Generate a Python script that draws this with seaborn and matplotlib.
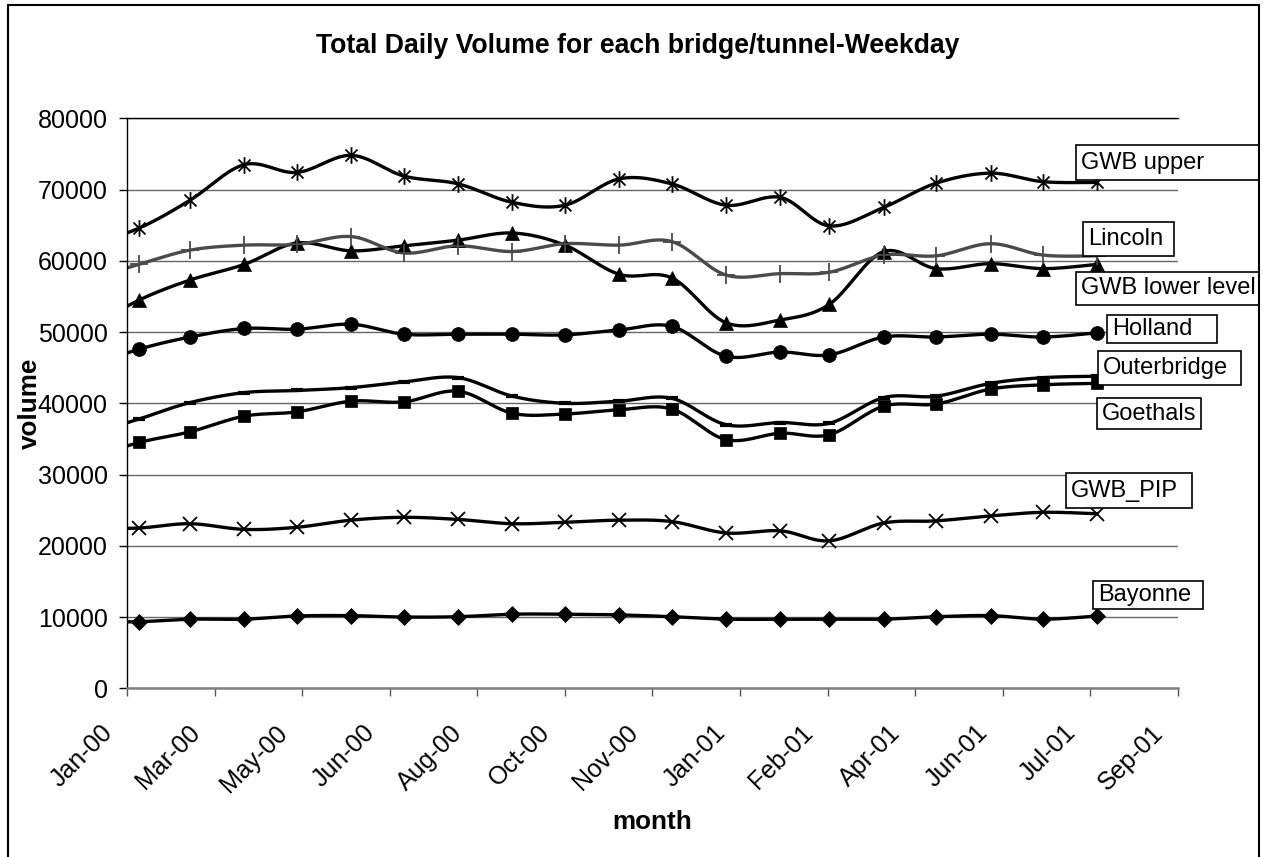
import numpy as np
import pandas as pd
import matplotlib
matplotlib.use("Agg")
import matplotlib.pyplot as plt
import matplotlib.dates as mdates
from matplotlib.path import Path
from matplotlib.patches import Rectangle
from matplotlib.transforms import ScaledTranslation
import seaborn as sns

# ---------------- data (monthly, Jan-2000 .. Aug-2001) ----------------
months = pd.date_range("2000-01-01", "2001-08-01", freq="MS")

bayonne = [9300, 9350, 9700, 9700, 10150, 10200, 10000, 10050, 10400, 10400,
           10300, 10050, 9700, 9700, 9700, 9700, 10050, 10200, 9700, 10150]
goethals = [32100, 34500, 36000, 38200, 38800, 40300, 40200, 41700, 38600, 38500,
            39100, 39200, 34900, 35800, 35600, 39600, 39900, 42000, 42600, 42800]
gwb_lower = [50300, 54500, 57300, 59500, 62500, 61400, 62100, 62900, 63900, 62200,
             58100, 57600, 51300, 51700, 53900, 61300, 58900, 59600, 58900, 59500]
gwb_pip = [22400, 22500, 23100, 22300, 22600, 23600, 24000, 23700, 23100, 23300,
           23600, 23400, 21800, 22100, 20700, 23200, 23500, 24200, 24700, 24500]
gwb_upper = [62000, 64600, 68500, 73500, 72400, 74800, 71900, 70800, 68200, 67800,
             71500, 70800, 67800, 68900, 64900, 67500, 70900, 72300, 71100, 71000]
holland = [45000, 47600, 49300, 50500, 50400, 51100, 49700, 49700, 49700, 49600,
           50300, 50800, 46600, 47200, 46800, 49300, 49300, 49700, 49300, 49900]
lincoln = [57200, 59500, 61500, 62200, 62300, 63400, 61100, 62100, 61300, 62400,
           62200, 62700, 58000, 58200, 58400, 60800, 60700, 62400, 60800, 60700]
outerbridge = [35400, 37800, 40100, 41500, 41800, 42200, 43000, 43600, 41000, 40000,
               40300, 40700, 37000, 37300, 37200, 40800, 41000, 42800, 43600, 43800]

series_names = ["Bayonne", "Goethals", "GWB lower level", "GWB_PIP",
                "GWB upper", "Holland", "Lincoln", "Outerbridge"]
series_values = [bayonne, goethals, gwb_lower, gwb_pip,
                 gwb_upper, holland, lincoln, outerbridge]

title = "Total Daily Volume for each bridge/tunnel-Weekday"
x_label = "month"
y_label = "volume"
y_ticks = [0, 10000, 20000, 30000, 40000, 50000, 60000, 70000, 80000]
x_start = pd.Timestamp("2000-01-25")
x_step_days = 50
n_xticks = 13

# ---------------- styling ----------------
sns.set_theme(style="white")
plt.rcParams["font.family"] = ["Liberation Sans", "DejaVu Sans"]

W, H = 1265, 857
fig = plt.figure(figsize=(W / 100, H / 100), dpi=100)
fig.patch.set_facecolor("white")

def fx(px):
    return px / W

def fy(py):
    return 1 - py / H

ax = fig.add_axes([fx(127), fy(688.3), fx(1178) - fx(127), fy(118.3) - fy(688.3)])
ax.set_facecolor("white")

asterisk = Path([(0, -1), (0, 1), (-0.72, -0.72), (0.72, 0.72), (-0.72, 0.72), (0.72, -0.72)],
                [Path.MOVETO, Path.LINETO] * 3)

styles = {
    "Bayonne": dict(color="black", marker="D", ms=8.5, mew=0.5, mfc="black"),
    "Goethals": dict(color="black", marker="s", ms=9, mew=0.5, mfc="black"),
    "GWB lower level": dict(color="black", marker="^", ms=10.5, mew=0.5, mfc="black"),
    "GWB_PIP": dict(color="black", marker="x", ms=10, mew=1.3, mfc="none"),
    "GWB upper": dict(color="black", marker=asterisk, ms=12, mew=1.3, mfc="none"),
    "Holland": dict(color="black", marker="o", ms=10, mew=0.5, mfc="black"),
    "Lincoln": dict(color="#4a4a4a", marker="+", ms=13, mew=1.3, mfc="none"),
    "Outerbridge": dict(color="black", marker="_", ms=8, mew=3, mfc="none"),
}


def smooth(xs, ys, n=30):
    """Excel-style smoothed line (Catmull-Rom Bezier) through the points."""
    P = np.column_stack([xs, ys]).astype(float)
    P = np.vstack([P[0], P, P[-1]])
    out = []
    nseg = len(P) - 3
    for i in range(1, len(P) - 2):
        p0, p1, p2, p3 = P[i - 1], P[i], P[i + 1], P[i + 2]
        c1 = p1 + (p2 - p0) / 6
        c2 = p2 - (p3 - p1) / 6
        t = np.linspace(0, 1, n, endpoint=(i == nseg))[:, None]
        seg = (1 - t) ** 3 * p1 + 3 * (1 - t) ** 2 * t * c1 + 3 * (1 - t) * t ** 2 * c2 + t ** 3 * p2
        out.append(seg)
    return np.vstack(out)


xnum = mdates.date2num(months)
for name, vals in zip(series_names, series_values):
    st = styles[name]
    curve = smooth(xnum, vals)
    sns.lineplot(x=curve[:, 0], y=curve[:, 1], sort=False, estimator=None,
                 color=st["color"], linewidth=2.4, ax=ax, legend=False)
    ax.plot(xnum, vals, linestyle="none", marker=st["marker"], ms=st["ms"],
            mew=st["mew"], mfc=st["mfc"], mec=st["color"], color=st["color"],
            zorder=3)

# axes scales
xmin = mdates.date2num(x_start)
tick_pos = [xmin + k * x_step_days for k in range(n_xticks)]
ax.set_xlim(tick_pos[0], tick_pos[-1])
ax.set_ylim(0, 80000)
ax.xaxis.set_major_locator(matplotlib.ticker.FixedLocator(tick_pos))
ax.xaxis.set_major_formatter(mdates.DateFormatter("%b-%y"))
ax.set_yticks(y_ticks)
ax.yaxis.set_major_formatter(matplotlib.ticker.FuncFormatter(lambda v, p: f"{int(v)}"))

ax.yaxis.grid(True, color="#666666", linewidth=1.0)
ax.xaxis.grid(False)
ax.set_axisbelow(True)

ax.spines["right"].set_visible(False)
ax.spines["top"].set_color("black")
ax.spines["top"].set_linewidth(1.0)
ax.spines["left"].set_color("black")
ax.spines["left"].set_linewidth(1.0)
ax.spines["bottom"].set_color("#808080")
ax.spines["bottom"].set_linewidth(1.8)

ax.tick_params(axis="y", direction="out", length=5.8, width=1, color="black",
               labelsize=18, pad=8.2, left=True, labelcolor="black")
ax.tick_params(axis="x", direction="out", length=5.8, width=1, color="#555555",
               labelsize=18, pad=17.5, bottom=True, labelcolor="black")
for lbl in ax.get_xticklabels():
    lbl.set_rotation(45)
    lbl.set_ha("right")
    lbl.set_va("top")
    lbl.set_transform(lbl.get_transform() + ScaledTranslation(-10 / 100, 0, fig.dpi_scale_trans))

ax.set_xlabel(x_label, fontsize=18.8, fontweight="bold", color="black")
ax.set_ylabel(y_label, fontsize=18.8, fontweight="bold", color="black")
ax.xaxis.set_label_coords(0.5, (688.3 - 822) / 570)
ax.xaxis.label.set_verticalalignment("center")
ax.yaxis.set_label_coords((30 - 127) / 1051, 0.5)
ax.yaxis.label.set_verticalalignment("center")

fig.text(fx(638), fy(46), title, ha="center", va="center", fontsize=19.2,
         fontweight="bold", color="black")

# series name labels (boxed), in pixel box positions (left, top, right, bottom)
label_boxes = {
    "GWB upper": (1076, 145, 1259, 180),
    "Lincoln": (1083, 222, 1174, 256),
    "GWB lower level": (1076, 272, 1259, 305),
    "Holland": (1107, 315, 1217, 343),
    "Outerbridge": (1098, 351, 1241, 385),
    "Goethals": (1097, 398, 1201, 429),
    "GWB_PIP": (1066, 473, 1192, 508),
    "Bayonne": (1093, 581, 1203, 609),
}
for name, (l, t, r, b) in label_boxes.items():
    fig.add_artist(Rectangle((fx(l), fy(b)), fx(r) - fx(l), fy(t) - fy(b),
                             transform=fig.transFigure, facecolor="white",
                             edgecolor="black", linewidth=1.2, zorder=5))
    fig.text(fx(l + 5), fy((t + b) / 2), name, ha="left", va="center",
             fontsize=17, color="black", zorder=6)

# chart area border
fig.add_artist(Rectangle((fx(8), -0.01), fx(1259) - fx(8), fy(5) + 0.01,
                         transform=fig.transFigure, fill=False, edgecolor="black",
                         linewidth=1.5, zorder=10, clip_on=False))

fig.savefig("out.png", dpi=100)
